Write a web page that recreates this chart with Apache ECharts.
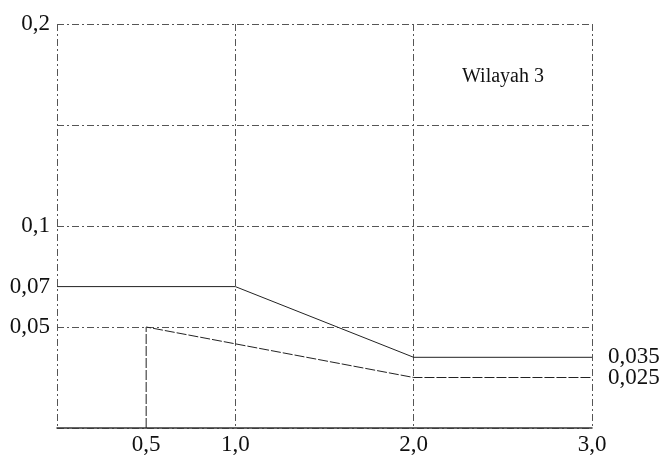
<!DOCTYPE html>
<html>
<head>
<meta charset="utf-8">
<script src="https://cdn.jsdelivr.net/npm/echarts@6/dist/echarts.min.js"></script>
<style>
  html, body { margin: 0; padding: 0; background: #fff; }
  #app { width: 664px; height: 456px; }
</style>
</head>
<body>
<div id="app"></div>
<script>
// data
var upperX = [0, 1.0, 2.0, 3.0];
var upperY = [0.07, 0.07, 0.035, 0.035];
var lowerX = [0.5, 0.5, 2.0, 3.0];
var lowerY = [0, 0.05, 0.025, 0.025];
var xTicks = [0.5, 1.0, 2.0, 3.0];
var yTicksLeft = [0.05, 0.07, 0.1, 0.2];

function pairs(xs, ys) {
    return xs.map(function (x, i) { return [x, ys[i]]; });
}
// comma decimal, as in the original
function comma(v, d) {
    return v.toFixed(d).replace('.', ',');
}
function decimals(v) {
    var s = String(v);
    return s.indexOf('.') < 0 ? 0 : s.split('.')[1].length;
}

var gridLine = { color: '#555', width: 1, type: [7, 3, 2, 3] };
var font = { fontFamily: 'Liberation Serif', fontSize: 23, color: '#111' };

var endLabel = Object.assign({
    show: true,
    distance: 16,
    formatter: function (p) { return comma(p.value[1], 3); }
}, font);

var myEchart = echarts.init(document.getElementById('app'));
myEchart.setOption({
    animation: false,
    title: {
        text: 'Wilayah 3',
        left: 457,
        top: 62,
        textStyle: { fontFamily: 'Liberation Serif', fontSize: 20, fontWeight: 'normal', color: '#111' }
    },
    grid: { left: 57, right: 72, top: 24, bottom: 24 },
    xAxis: {
        type: 'value',
        min: 0,
        max: 3,
        interval: 1,
        axisLine: { show: true, lineStyle: { color: '#333', width: 1.5 } },
        axisTick: { show: false },
        splitLine: { show: true, lineStyle: gridLine },
        axisLabel: Object.assign({
            customValues: xTicks,
            margin: 5,
            formatter: function (v) { return comma(v, 1); }
        }, font)
    },
    yAxis: {
        type: 'value',
        min: 0,
        max: 0.2,
        interval: 0.05,
        axisLine: { show: false },
        axisTick: { show: false },
        splitLine: { show: true, lineStyle: gridLine },
        axisLabel: Object.assign({
            customValues: yTicksLeft,
            margin: 7,
            formatter: function (v) { return comma(v, decimals(+v.toFixed(3))); }
        }, font)
    },
    series: [{
        name: 'atas',
        type: 'line',
        data: pairs(upperX, upperY),
        symbol: 'none',
        lineStyle: { color: '#222', width: 1 },
        endLabel: endLabel
    }, {
        name: 'bawah',
        type: 'line',
        data: pairs(lowerX, lowerY),
        symbol: 'none',
        lineStyle: { color: '#222', width: 1, type: [10, 2] },
        endLabel: endLabel
    }]
});
</script>
</body>
</html>
